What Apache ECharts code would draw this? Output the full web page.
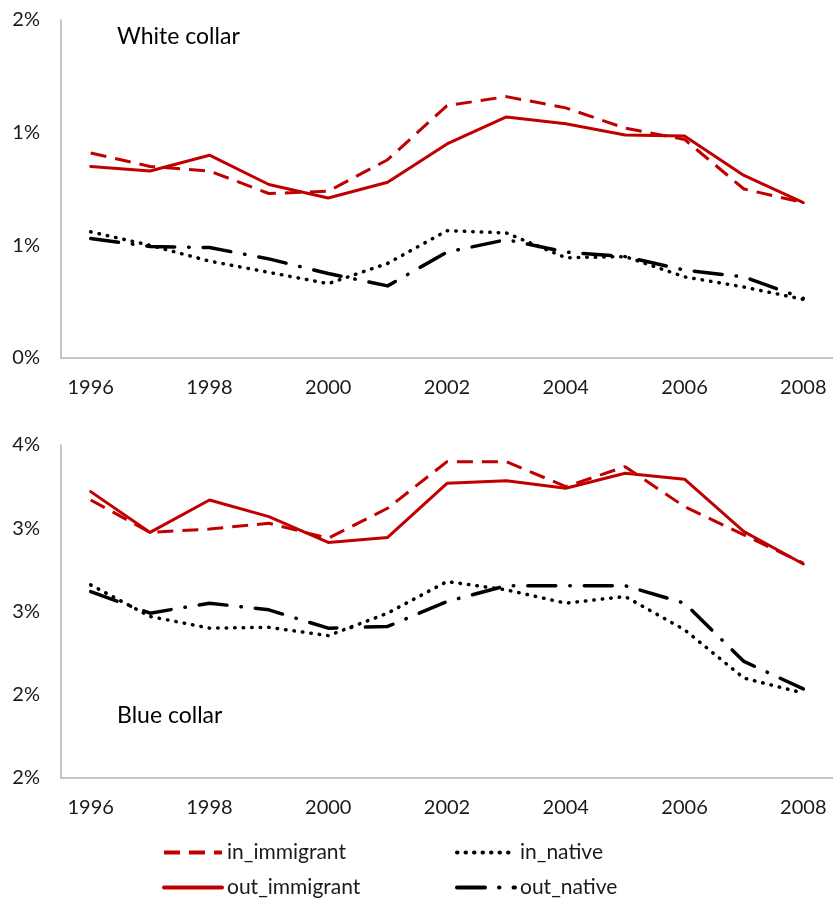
<!DOCTYPE html>
<html>
<head>
<meta charset="utf-8">
<script src="https://cdn.jsdelivr.net/npm/echarts@6/dist/echarts.min.js"></script>
<style>html,body{margin:0;padding:0;background:#fff;}#c{width:833px;height:901px;}</style>
</head>
<body>
<div id="c"></div>
<script>
const years = ['1996','1997','1998','1999','2000','2001','2002','2003','2004','2005','2006','2007','2008'];

// White collar (percent)
const wcInImmigrant  = [0.91, 0.85, 0.83, 0.73, 0.74, 0.88, 1.12, 1.16, 1.11, 1.02, 0.97, 0.75, 0.69];
const wcOutImmigrant = [0.85, 0.83, 0.90, 0.77, 0.71, 0.78, 0.95, 1.07, 1.04, 0.99, 0.985, 0.81, 0.69];
const wcInNative     = [0.56, 0.50, 0.43, 0.38, 0.33, 0.42, 0.565, 0.555, 0.445, 0.45, 0.36, 0.315, 0.26];
const wcOutNative    = [0.53, 0.495, 0.49, 0.44, 0.375, 0.32, 0.47, 0.525, 0.47, 0.45, 0.39, 0.36, 0.265];

// Blue collar (percent)
const bcInImmigrant  = [3.17, 2.975, 2.995, 3.03, 2.94, 3.12, 3.40, 3.40, 3.25, 3.37, 3.13, 2.96, 2.79];
const bcOutImmigrant = [3.22, 2.975, 3.17, 3.07, 2.915, 2.945, 3.27, 3.285, 3.24, 3.33, 3.295, 2.98, 2.785];
const bcInNative     = [2.66, 2.47, 2.40, 2.405, 2.355, 2.49, 2.68, 2.63, 2.55, 2.59, 2.39, 2.10, 2.01];
const bcOutNative    = [2.62, 2.49, 2.55, 2.51, 2.40, 2.41, 2.56, 2.655, 2.655, 2.655, 2.55, 2.20, 2.035];

const wcTickLabels = ['0%','1%','1%','2%'];
const bcTickLabels = ['2%','2%','3%','3%','4%'];
const xTickLabels = ['1996','1998','2000','2002','2004','2006','2008'];

const RED = '#C00000';
const FONT = 'Lato';
const styles = {
  in_immigrant:  {color: RED, width: 3, type: [16, 9], cap: 'butt'},
  out_immigrant: {color: RED, width: 3, type: 'solid', cap: 'round'},
  in_native:     {color: '#000', width: 3.5, type: [0.5, 8], cap: 'round'},
  out_native:    {color: '#000', width: 3.5, type: [28, 14, 0.5, 14], cap: 'round'}
};

function xAxis(gi) {
  return {
    type: 'category', gridIndex: gi, data: years, boundaryGap: true,
    axisLine: {lineStyle: {color: '#B3B3B3', width: 1.5}},
    axisTick: {show: false},
    axisLabel: {
      interval: 0, margin: 20, fontFamily: FONT, fontSize: 20, color: '#1a1a1a',
      formatter: v => xTickLabels.indexOf(v) >= 0 ? v : ''
    },
    splitLine: {show: false}
  };
}
function yAxis(gi, min, max, labels) {
  return {
    type: 'value', gridIndex: gi, min: min, max: max, interval: 0.5,
    axisLine: {show: true, lineStyle: {color: '#B3B3B3', width: 1.5}},
    axisTick: {show: false},
    splitLine: {show: false},
    axisLabel: {
      margin: 21, fontFamily: FONT, fontSize: 20, color: '#1a1a1a',
      formatter: v => labels[Math.round((v - min) / 0.5)]
    }
  };
}
function ser(name, data, gi) {
  const s = styles[name];
  return {
    name: name, type: 'line', xAxisIndex: gi, yAxisIndex: gi, data: data,
    symbol: 'none', smooth: false, animation: false,
    lineStyle: {color: s.color, width: s.width, type: s.type, cap: s.cap, join: 'round'},
    itemStyle: {color: s.color}
  };
}
function leg(name, left, top) {
  const s = styles[name];
  return {
    data: [name], left: left, top: top, orient: 'horizontal', padding: 0,
    itemWidth: 58, itemHeight: 14, itemGap: 0,
    itemStyle: {opacity: 0},
    lineStyle: {width: 4, color: s.color, type: s.type, cap: s.cap},
    textStyle: {fontFamily: FONT, fontSize: 21, color: '#1a1a1a', padding: [0, 0, 0, 0]},
    selectedMode: false
  };
}

const chart = echarts.init(document.getElementById('c'), null, {renderer: 'canvas'});
chart.setOption({
  backgroundColor: '#fff',
  animation: false,
  title: [
    {text: 'White collar', left: 117, top: 25, padding: 0,
     textStyle: {fontFamily: FONT, fontSize: 23, fontWeight: 'normal', color: '#000'}},
    {text: 'Blue collar', left: 117, top: 704, padding: 0,
     textStyle: {fontFamily: FONT, fontSize: 23, fontWeight: 'normal', color: '#000'}}
  ],
  grid: [
    {left: 61, right: 0, top: 20, height: 338},
    {left: 61, right: 0, top: 445, height: 333}
  ],
  xAxis: [xAxis(0), xAxis(1)],
  yAxis: [yAxis(0, 0, 1.5, wcTickLabels), yAxis(1, 1.5, 3.5, bcTickLabels)],
  legend: [
    leg('in_immigrant', 162, 842),
    leg('in_native', 455, 842),
    leg('out_immigrant', 162, 877),
    leg('out_native', 455, 877)
  ],
  series: [
    ser('in_immigrant', wcInImmigrant, 0),
    ser('out_immigrant', wcOutImmigrant, 0),
    ser('in_native', wcInNative, 0),
    ser('out_native', wcOutNative, 0),
    ser('in_immigrant', bcInImmigrant, 1),
    ser('out_immigrant', bcOutImmigrant, 1),
    ser('in_native', bcInNative, 1),
    ser('out_native', bcOutNative, 1)
  ]
});
</script>
</body>
</html>
